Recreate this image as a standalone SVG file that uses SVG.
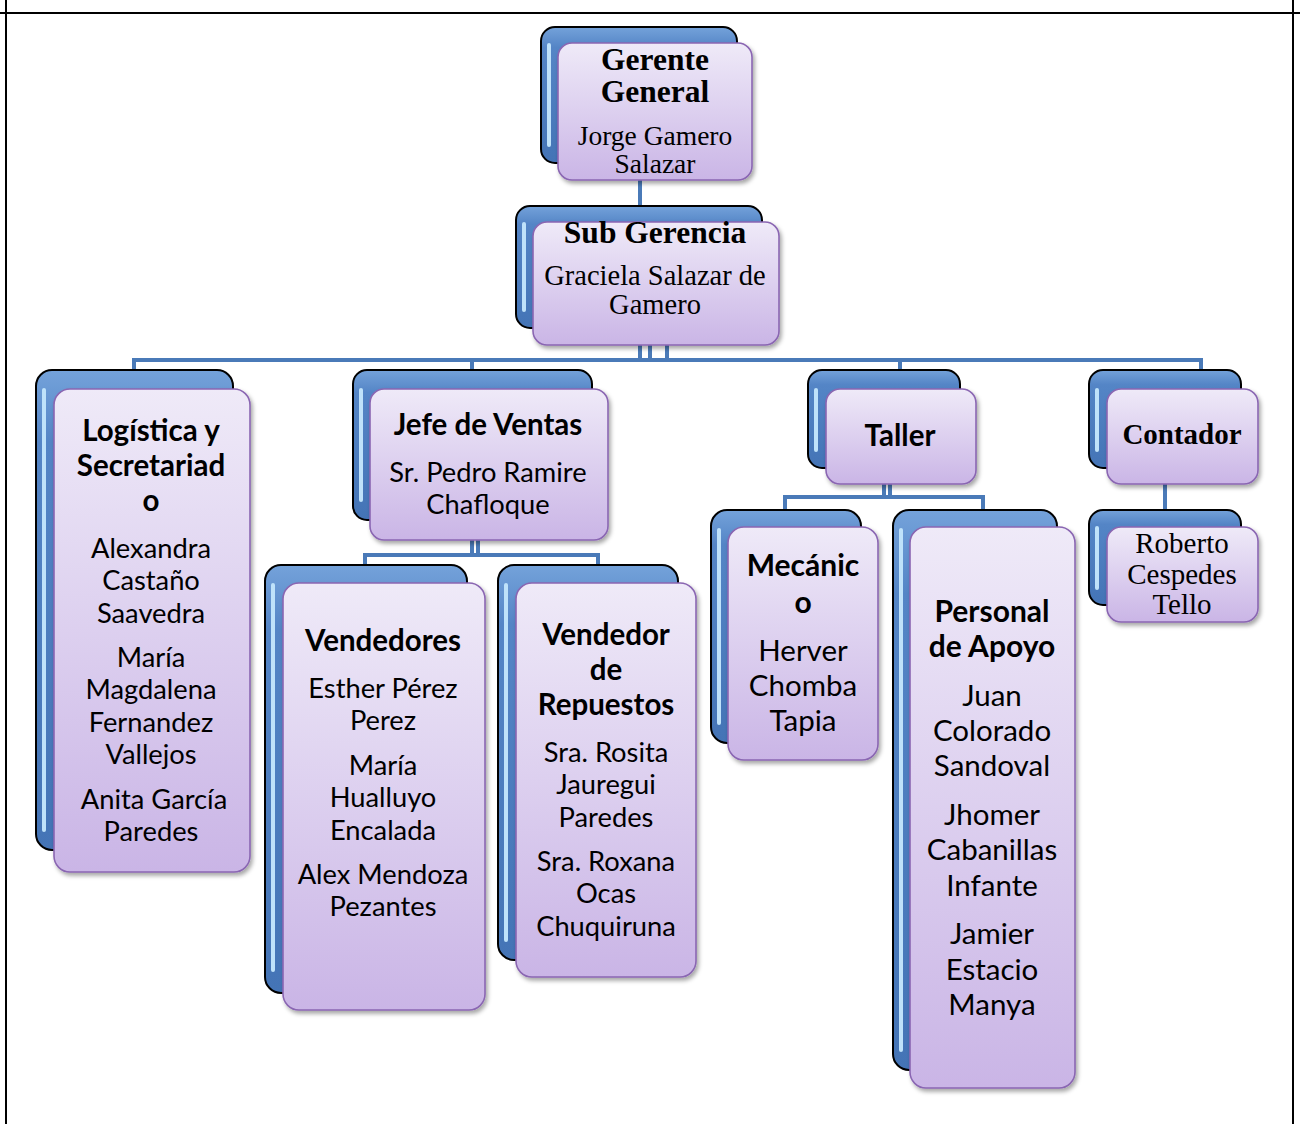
<svg xmlns="http://www.w3.org/2000/svg" width="1300" height="1124" viewBox="0 0 1300 1124">
<style>
.back{fill:url(#gb);stroke:#000;stroke-width:2}
.hl{stroke:#bfe2fa;stroke-width:4;stroke-linecap:round;fill:none}
.front{fill:url(#gf);stroke:#8a66b2;stroke-width:1.6;filter:url(#sh)}
.cn{stroke:#4a7ab8;stroke-width:4;fill:none}
text{text-anchor:middle;dominant-baseline:central;fill:#000}
.c{font-family:Lato,"Open Sans",sans-serif;font-size:27.3px}
.cb{font-family:Lato,"Open Sans",sans-serif;font-size:29.5px;font-weight:bold}
.c2{font-family:Lato,"Open Sans",sans-serif;font-size:29.5px}
.cb2{font-family:Lato,"Open Sans",sans-serif;font-size:30px;font-weight:bold}
.t{font-family:"Liberation Serif",serif;font-size:27.5px}
.tb{font-family:"Liberation Serif",serif;font-size:31.5px;font-weight:bold}
.frame{stroke:#000;stroke-width:2;fill:none}
</style>
<defs>
<linearGradient id="gb" x1="0" y1="0" x2="0" y2="1">
<stop offset="0" stop-color="#74a2da"/>
<stop offset="0.15" stop-color="#5485c6"/>
<stop offset="1" stop-color="#4474b6"/>
</linearGradient>
<linearGradient id="gf" x1="0" y1="0" x2="0" y2="1">
<stop offset="0" stop-color="#efeaf8"/>
<stop offset="1" stop-color="#cab5e6"/>
</linearGradient>
<filter id="sh" x="-10%" y="-10%" width="125%" height="125%">
<feDropShadow dx="2" dy="3" stdDeviation="2" flood-color="#000" flood-opacity="0.35"/>
</filter>
</defs>

<g id="frame">
<line class="frame" x1="0" y1="13" x2="1300" y2="13"/>
<line class="frame" x1="6" y1="0" x2="6" y2="1124"/>
<line class="frame" x1="1293" y1="0" x2="1293" y2="1124"/>
</g>

<g id="connectors">
<line class="cn" x1="640" y1="180" x2="640" y2="222"/>
<line class="cn" x1="640" y1="345" x2="640" y2="360"/>
<line class="cn" x1="650" y1="345" x2="650" y2="360"/>
<line class="cn" x1="667" y1="345" x2="667" y2="360"/>
<polyline class="cn" points="134,372 134,360 1201,360 1201,372"/>
<line class="cn" x1="472" y1="360" x2="472" y2="372"/>
<line class="cn" x1="900" y1="360" x2="900" y2="372"/>
<line class="cn" x1="472" y1="540" x2="472" y2="555"/>
<line class="cn" x1="478" y1="540" x2="478" y2="555"/>
<polyline class="cn" points="365,566 365,555 598,555 598,566"/>
<line class="cn" x1="884" y1="484" x2="884" y2="497"/>
<line class="cn" x1="890" y1="484" x2="890" y2="497"/>
<polyline class="cn" points="785,511 785,497 983,497 983,511"/>
<line class="cn" x1="1165" y1="484" x2="1165" y2="527"/>
</g>

<g id="gerente">
<rect class="back" x="541" y="27" width="196" height="136" rx="14"/>
<line class="hl" x1="549" y1="45" x2="549" y2="145"/>
<rect class="front" x="558" y="43" width="194" height="137" rx="14"/>
<text class="tb" x="655" y="59">Gerente</text>
<text class="tb" x="655" y="91">General</text>
<text class="t" x="655" y="135">Jorge Gamero</text>
<text class="t" x="655" y="163">Salazar</text>
</g>

<g id="subgerencia">
<rect class="back" x="516" y="206" width="246" height="122" rx="14"/>
<line class="hl" x1="524" y1="224" x2="524" y2="310"/>
<rect class="front" x="533" y="222" width="246" height="123" rx="14"/>
<text class="tb" x="655" y="232">Sub Gerencia</text>
<text class="t" x="655" y="275" style="font-size:28.5px">Graciela Salazar de</text>
<text class="t" x="655" y="304" style="font-size:28.5px">Gamero</text>
</g>

<g id="logistica">
<rect class="back" x="36" y="370" width="197" height="480" rx="16"/>
<line class="hl" x1="44" y1="390" x2="44" y2="830"/>
<rect class="front" x="54" y="389" width="196" height="483" rx="16"/>
<text class="cb" x="151" y="429">Logística y</text>
<text class="cb" x="151" y="464">Secretariad</text>
<text class="cb" x="151" y="499">o</text>
<text class="c" x="151" y="547">Alexandra</text>
<text class="c" x="151" y="579">Castaño</text>
<text class="c" x="151" y="612">Saavedra</text>
<text class="c" x="151" y="656">María</text>
<text class="c" x="151" y="688">Magdalena</text>
<text class="c" x="151" y="721">Fernandez</text>
<text class="c" x="151" y="753">Vallejos</text>
<text class="c" x="154" y="798">Anita García</text>
<text class="c" x="151" y="830">Paredes</text>
</g>

<g id="jefeventas">
<rect class="back" x="353" y="370" width="239" height="150" rx="14"/>
<line class="hl" x1="361" y1="390" x2="361" y2="500"/>
<rect class="front" x="370" y="389" width="238" height="151" rx="14"/>
<text class="cb" x="488" y="423">Jefe de Ventas</text>
<text class="c" x="488" y="471">Sr. Pedro Ramire</text>
<text class="c" x="488" y="503">Chafloque</text>
</g>

<g id="taller">
<rect class="back" x="808" y="370" width="152" height="98" rx="14"/>
<line class="hl" x1="816" y1="390" x2="816" y2="450"/>
<rect class="front" x="826" y="389" width="150" height="95" rx="14"/>
<text class="cb" x="900" y="434">Taller</text>
</g>

<g id="contador">
<rect class="back" x="1089" y="370" width="152" height="98" rx="14"/>
<line class="hl" x1="1097" y1="390" x2="1097" y2="450"/>
<rect class="front" x="1107" y="389" width="151" height="95" rx="14"/>
<text class="tb" x="1182" y="434" style="font-size:29px">Contador</text>
</g>

<g id="roberto">
<rect class="back" x="1089" y="510" width="152" height="95" rx="14"/>
<line class="hl" x1="1097" y1="528" x2="1097" y2="588"/>
<rect class="front" x="1107" y="527" width="151" height="95" rx="14"/>
<text class="t" x="1182" y="543" style="font-size:29px">Roberto</text>
<text class="t" x="1182" y="574" style="font-size:29px">Cespedes</text>
<text class="t" x="1182" y="604" style="font-size:29px">Tello</text>
</g>

<g id="vendedores">
<rect class="back" x="265" y="565" width="202" height="428" rx="16"/>
<line class="hl" x1="273" y1="585" x2="273" y2="970"/>
<rect class="front" x="283" y="583" width="202" height="427" rx="16"/>
<text class="cb" x="383" y="639">Vendedores</text>
<text class="c" x="383" y="687">Esther Pérez</text>
<text class="c" x="383" y="719">Perez</text>
<text class="c" x="383" y="764">María</text>
<text class="c" x="383" y="796">Hualluyo</text>
<text class="c" x="383" y="829">Encalada</text>
<text class="c" x="383" y="873">Alex Mendoza</text>
<text class="c" x="383" y="905">Pezantes</text>
</g>

<g id="repuestos">
<rect class="back" x="498" y="565" width="180" height="395" rx="16"/>
<line class="hl" x1="506" y1="585" x2="506" y2="940"/>
<rect class="front" x="516" y="583" width="180" height="394" rx="16"/>
<text class="cb" x="606" y="633">Vendedor</text>
<text class="cb" x="606" y="668">de</text>
<text class="cb" x="606" y="703">Repuestos</text>
<text class="c" x="606" y="751">Sra. Rosita</text>
<text class="c" x="606" y="783">Jauregui</text>
<text class="c" x="606" y="816">Paredes</text>
<text class="c" x="606" y="860">Sra. Roxana</text>
<text class="c" x="606" y="892">Ocas</text>
<text class="c" x="606" y="925">Chuquiruna</text>
</g>

<g id="mecanico">
<rect class="back" x="711" y="510" width="150" height="233" rx="16"/>
<line class="hl" x1="719" y1="530" x2="719" y2="723"/>
<rect class="front" x="728" y="527" width="150" height="233" rx="16"/>
<text class="cb2" x="803" y="564">Mecánic</text>
<text class="cb2" x="803" y="601">o</text>
<text class="c2" x="803" y="649">Herver</text>
<text class="c2" x="803" y="684">Chomba</text>
<text class="c2" x="803" y="719">Tapia</text>
</g>

<g id="personal">
<rect class="back" x="893" y="510" width="164" height="560" rx="16"/>
<line class="hl" x1="901" y1="530" x2="901" y2="1050"/>
<rect class="front" x="910" y="527" width="165" height="561" rx="16"/>
<text class="cb2" x="992" y="610">Personal</text>
<text class="cb2" x="992" y="645">de Apoyo</text>
<text class="c2" x="992" y="694">Juan</text>
<text class="c2" x="992" y="729">Colorado</text>
<text class="c2" x="992" y="764">Sandoval</text>
<text class="c2" x="992" y="813">Jhomer</text>
<text class="c2" x="992" y="848">Cabanillas</text>
<text class="c2" x="992" y="884">Infante</text>
<text class="c2" x="992" y="932">Jamier</text>
<text class="c2" x="992" y="968">Estacio</text>
<text class="c2" x="992" y="1003">Manya</text>
</g>
</svg>
